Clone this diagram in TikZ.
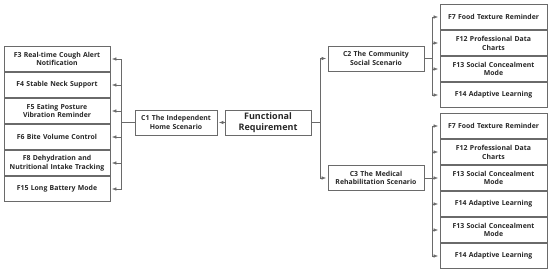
\documentclass[tikz,border=0pt]{standalone}
\usepackage{fontspec}
\setmainfont{Open Sans}
\usepackage{tikz}
\usetikzlibrary{positioning,arrows.meta,calc}

\definecolor{boxline}{HTML}{6A6A6A}
\definecolor{txt}{HTML}{262626}

\begin{document}
\begin{tikzpicture}[
    x=1pt, y=-1pt,
    fbox/.style={draw=boxline, line width=0.8pt, minimum height=25pt, inner sep=1pt, align=center, text=txt, font=\fontsize{6.9}{8.8}\selectfont\bfseries},
    lbox/.style={fbox, minimum width=106pt, text width=104pt},
    rbox/.style={fbox, minimum width=107pt, text width=105pt},
    cbox/.style={fbox, minimum width=96pt, text width=94pt},
    link/.style={-{Latex[length=4.5pt,width=3.5pt]}, line width=0.6pt, boxline, shorten >=1.5pt},
]
  \useasboundingbox (0,0) rectangle (550,273);

  % root
  \node[fbox, minimum width=86pt, text width=84pt, font=\fontsize{9}{11}\selectfont\bfseries] (fr) at (268,122.5) {Functional \\ Requirement};

  % scenarios
  \node[fbox, minimum width=82pt, text width=80pt] (c1) at (176,122.5) {C1 The Independent \\ Home Scenario};
  \node[cbox] (c2) at (376,58.5) {C2 The Community \\ Social Scenario};
  \node[cbox] (c3) at (376,178) {C3 The Medical \\ Rehabilitation Scenario};

  % functions of C1
  \node[lbox] (f3) at (57,59) {F3 Real-time Cough Alert \\ Notification};
  \node[lbox] (f4) at (57,85) {F4 Stable Neck Support};
  \node[lbox] (f5) at (57,111) {F5 Eating Posture \\ Vibration Reminder};
  \node[lbox] (f6) at (57,137) {F6 Bite Volume Control};
  \node[lbox] (f8) at (57,163) {F8 Dehydration and \\ Nutritional Intake Tracking};
  \node[lbox] (f15) at (57,189) {F15 Long Battery Mode};

  % functions of C2
  \node[rbox] (a7) at (493.5,17) {F7 Food Texture Reminder};
  \node[rbox] (a12) at (493.5,43) {F12 Professional Data \\ Charts};
  \node[rbox] (a13) at (493.5,69) {F13 Social Concealment \\ Mode};
  \node[rbox] (a14) at (493.5,95) {F14 Adaptive Learning};

  % functions of C3
  \node[rbox] (b7) at (493.5,126) {F7 Food Texture Reminder};
  \node[rbox] (b12) at (493.5,152) {F12 Professional Data \\ Charts};
  \node[rbox] (b13) at (493.5,178) {F13 Social Concealment \\ Mode};
  \node[rbox] (b14) at (493.5,204) {F14 Adaptive Learning};
  \node[rbox] (b13b) at (493.5,230) {F13 Social Concealment \\ Mode};
  \node[rbox] (b14b) at (493.5,256) {F14 Adaptive Learning};

  % connectors
  \draw[link] (fr.west) -- (c1.east);
  \draw[link] (fr.east) -- ++(8.5,0) |- (c2.west);
  \draw[link] (fr.east) -- ++(8.5,0) |- (c3.west);

  \foreach \f in {f3,f4,f5,f6,f8,f15}
    \draw[link] (c1.west) -- ++(-13,0) |- (\f.east);
  \foreach \f in {a7,a12,a13,a14}
    \draw[link] (c2.east) -- ++(8,0) |- (\f.west);
  \foreach \f in {b7,b12,b13,b14,b13b,b14b}
    \draw[link] (c3.east) -- ++(8,0) |- (\f.west);
\end{tikzpicture}
\end{document}
